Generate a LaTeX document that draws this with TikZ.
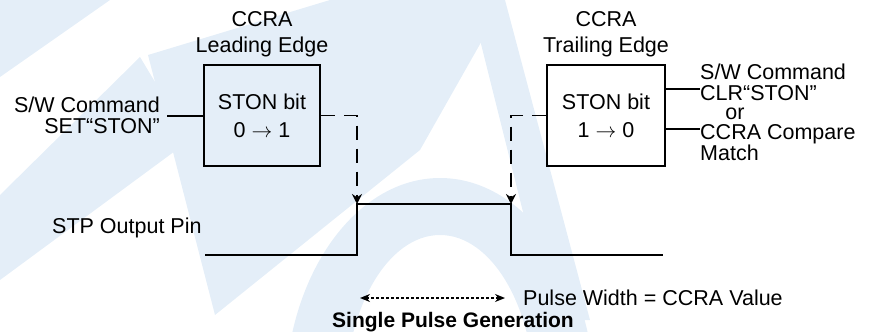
\documentclass[tikz,border=0pt]{standalone}
\usepackage{fontspec}
\setmainfont{Liberation Sans}
\usetikzlibrary{arrows.meta, positioning}
\definecolor{wmark}{RGB}{228,238,248}

\begin{document}
\begin{tikzpicture}[
    x=1pt, y=-1pt,
    >={Stealth[length=10pt, width=10pt]}, % default arrow tip
    every node/.style={font=\fontsize{21.5}{26}\selectfont},
    bitbox/.style={draw, line width=2pt, minimum width=116pt, minimum height=101pt,
        align=center, font=\fontsize{21.5}{28}\selectfont}, % STON bit boxes
    lbl/.style={align=center, inner sep=0pt}, % plain text labels
    tight/.style={font=\fontsize{21.5}{21}\selectfont}, % close line spacing
    wire/.style={line width=2pt}, % solid input lines
    sigline/.style={line width=2.4pt}, % STP output waveform
    trigger/.style={line width=1.8pt, dash pattern=on 14pt off 9pt}, % dashed edge arrows
    widtharrow/.style={line width=1.6pt, dash pattern=on 3pt off 2pt,
        {Stealth[length=10pt, width=8pt]}-{Stealth[length=10pt, width=8pt]}}
]
    \useasboundingbox (0,0) rectangle (871,332);

    % Watermark in the background
    \begin{scope}
        \clip (0,0) rectangle (871,332);
        \fill[wmark] (0,0) -- (110,0) -- (0,77) -- cycle;
        \fill[wmark] (0,195) -- (0,280) -- (190,140) -- (140,57) -- cycle;
        \fill[wmark] (148,55) -- (330,0) -- (505,0) -- (420,150) -- (215,315) -- cycle;
        \fill[wmark] (470,0) -- (505,0) -- (590,320) -- (550,320) -- cycle;
        \fill[wmark, even odd rule] (440,400) ellipse [x radius=155pt, y radius=222pt]
            (440,400) ellipse [x radius=95pt, y radius=165pt];
    \end{scope}

    % STON bit boxes
    \node[bitbox] (lead) at (262,115.5) {STON bit\\0 $\rightarrow$ 1};
    \node[bitbox, minimum width=118pt] (trail) at (606,115.5) {STON bit\\1 $\rightarrow$ 0};

    % Titles above the boxes
    \node[lbl, above=7pt of lead] (leadtitle) {CCRA\\Leading Edge};
    \node[lbl, above=7pt of trail] (trailtitle) {CCRA\\Trailing Edge};

    % Left input
    \node[lbl, tight, align=right, inner xsep=7pt, anchor=east] (setcmd) at (167,115.5)
        {S/W Command\\SET“STON”};
    \draw[wire] (setcmd) -- (lead);

    % Right inputs
    \node[lbl, tight, align=left, anchor=west] (clrcmd) at (700,82)
        {S/W Command\\CLR“STON”};
    \node[lbl] (ortext) at (735,114) {or};
    \node[lbl, tight, align=left, anchor=west] (cmpmatch) at (700,143)
        {CCRA Compare\\Match};
    \draw[wire] ([yshift=26.5pt]trail.east) -- ([yshift=26.5pt]trail.east -| clrcmd.west);
    \draw[wire] ([yshift=-13.5pt]trail.east) -- ([yshift=-13.5pt]trail.east -| cmpmatch.west);

    % Output waveform
    \node[lbl, anchor=west] (stp) at (52,228) {STP Output Pin};
    \coordinate (p0) at (205,255);
    \coordinate (p1) at (357,255);
    \coordinate (p2) at (357,204);
    \coordinate (p3) at (511,204);
    \coordinate (p4) at (511,255);
    \coordinate (p5) at (663,255);
    \draw[sigline] (p0) -- (p1) -- (p2) -- (p3) -- (p4) -- (p5);

    % Edge triggers
    \draw[trigger, ->] (lead.east) -| (p2);
    \draw[trigger, ->] (trail.west) -| (p3);

    % Pulse width
    \coordinate (wl) at (360,298);
    \coordinate (wr) at (505,298);
    \draw[widtharrow] (wl) -- (wr);
    \node[lbl, anchor=west, right=18pt of wr] (pwtext) {Pulse Width = CCRA Value};

    % Caption
    \node[lbl, font=\bfseries\fontsize{21}{24}\selectfont] (caption) at (453,322) {Single Pulse Generation};

\end{tikzpicture}
\end{document}
